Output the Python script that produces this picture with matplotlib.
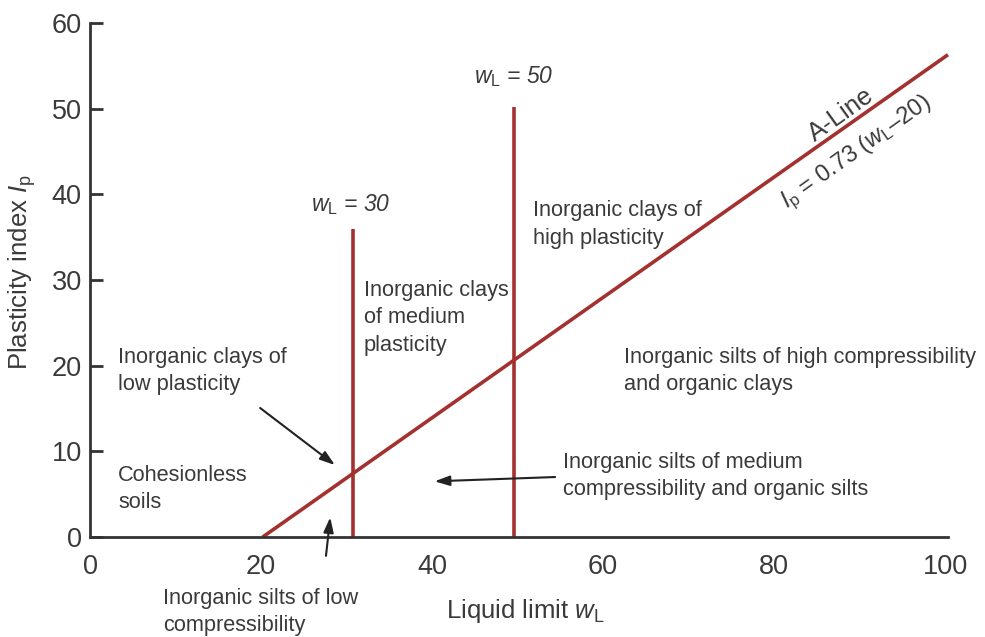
import matplotlib
matplotlib.use("Agg")
import matplotlib.pyplot as plt
from matplotlib import font_manager

names = {f.name for f in font_manager.fontManager.ttflist}
fam = [n for n in ["Liberation Sans Narrow", "Liberation Sans", "DejaVu Sans"] if n in names]
plt.rcParams['font.family'] = fam
plt.rcParams['mathtext.fontset'] = 'custom'
plt.rcParams['mathtext.rm'] = fam[0]
plt.rcParams['mathtext.it'] = fam[0] + ':italic'

# Data
aline_wl = [20.2, 100.35]
aline_ip = [0, 56.3]
wl30_x = 30.76
wl30_top = 35.95
wl50_x = 49.6
wl50_top = 50.2
xticks = [0, 20, 40, 60, 80, 100]
yticks = [0, 10, 20, 30, 40, 50, 60]

red = '#a3312f'
tc = '#3a3a3a'

fig = plt.figure(figsize=(9.85, 6.37), dpi=100)
ax = fig.add_axes([90/985, 1-537/637, 855/985, 514/637])
ax.set_xlim(0, 100)
ax.set_ylim(0, 60)
for s in ['top', 'right']:
    ax.spines[s].set_visible(False)
ax.spines['left'].set_linewidth(2)
ax.spines['bottom'].set_linewidth(2)
ax.spines['left'].set_color('#333333')
ax.spines['bottom'].set_color('#333333')
ax.spines['bottom'].set_bounds(0, 100.3)
ax.set_xticks(xticks)
ax.set_yticks(yticks)
ax.tick_params(axis='y', direction='in', length=9, width=2, color='#333333',
               labelsize=19.5, labelcolor=tc, pad=6)
ax.tick_params(axis='x', length=0, labelsize=19.5, labelcolor=tc, pad=12)

ax.plot(aline_wl, aline_ip, color=red, lw=2.6, solid_capstyle='butt', clip_on=False)
ax.plot([wl30_x, wl30_x], [0, wl30_top], color=red, lw=2.6, solid_capstyle='butt')
ax.plot([wl50_x, wl50_x], [0, wl50_top], color=red, lw=2.6, solid_capstyle='butt')

fs = 15.7
ls = 1.4
ax.text(wl50_x, 53.8, r'$w_\mathrm{L}$ = 50', fontsize=16.5, style='italic', color=tc, ha='center', va='center')
ax.text(wl30_x - 0.3, 38.8, r'$w_\mathrm{L}$ = 30', fontsize=16.5, style='italic', color=tc, ha='center', va='center')

ax.text(51.8, 36.5, 'Inorganic clays of\nhigh plasticity', fontsize=fs, color=tc, va='center', ha='left', linespacing=ls)
ax.text(32.0, 25.6, 'Inorganic clays\nof medium\nplasticity', fontsize=fs, color=tc, va='center', ha='left', linespacing=ls)
ax.text(3.3, 19.4, 'Inorganic clays of\nlow plasticity', fontsize=fs, color=tc, va='center', ha='left', linespacing=ls)
ax.text(3.3, 5.6, 'Cohesionless\nsoils', fontsize=fs, color=tc, va='center', ha='left', linespacing=ls)
ax.text(62.5, 19.4, 'Inorganic silts of high compressibility\nand organic clays', fontsize=fs, color=tc, va='center', ha='left', linespacing=ls)
ax.text(55.3, 7.1, 'Inorganic silts of medium\ncompressibility and organic silts', fontsize=fs, color=tc, va='center', ha='left', linespacing=ls)
ax.text(8.5, -8.75, 'Inorganic silts of low\ncompressibility', fontsize=fs, color=tc, va='center', ha='left', linespacing=ls)

ax.text(87.9, 49.3, 'A-Line', fontsize=18.5, color=tc, rotation=35.5, rotation_mode='anchor', ha='center', va='center')
ax.text(89.7, 44.8, r'$I_\mathrm{p}$ = 0.73 ($w_\mathrm{L}$–20)', fontsize=17, color=tc, rotation=35.5, rotation_mode='anchor', ha='center', va='center')

arr = dict(arrowstyle='-|>,head_length=0.9,head_width=0.3', color='#222222', lw=1.5, shrinkA=0, shrinkB=0)
ax.annotate('', xy=(28.65, 8.4), xytext=(19.9, 15.06), arrowprops=arr)
ax.annotate('', xy=(28.1, 2.3), xytext=(27.6, -2.2), arrowprops=arr, annotation_clip=False)
ax.annotate('', xy=(40.3, 6.5), xytext=(54.4, 7.0), arrowprops=arr)

fig.text(525/985, 1-611/637, r'Liquid limit $w_\mathrm{L}$', fontsize=18.5, color=tc, ha='center', va='center')
fig.text(22/985, 1-272/637, r'Plasticity index $I_\mathrm{p}$', fontsize=18.5, color=tc, ha='center', va='center', rotation=90)

fig.savefig('out.png', dpi=100)
